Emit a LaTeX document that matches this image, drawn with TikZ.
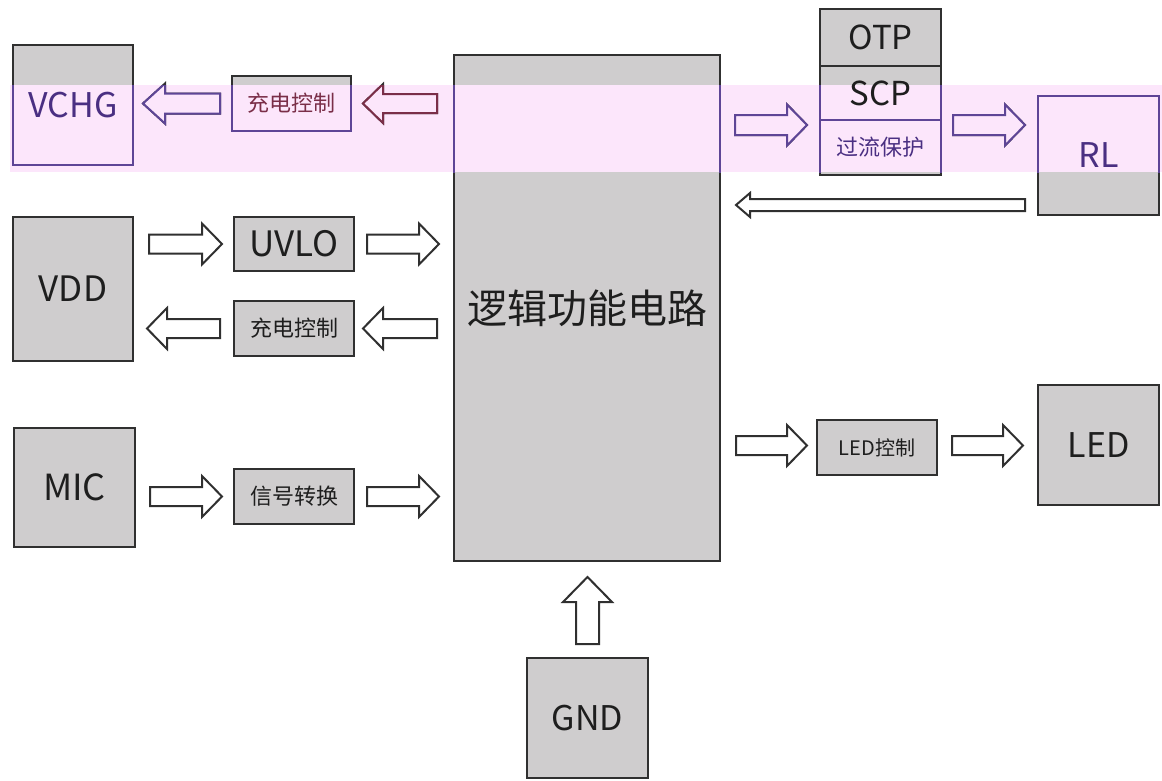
\documentclass[tikz,border=0pt]{standalone}
\usepackage{fontspec}
\setmainfont{Noto Sans CJK SC}
\usetikzlibrary{calc}
\definecolor{boxgray}{HTML}{CFCDCE}
\definecolor{edge}{HTML}{303030}
\definecolor{bandpink}{HTML}{FCE6FB}
\definecolor{bandedge}{HTML}{5E4596}
\definecolor{bandtext}{HTML}{4A2F82}
\definecolor{darkred}{HTML}{7A2E48}
\definecolor{ink}{HTML}{1E1E1E}
\newcommand\blockarrow[6][]{%
  \coordinate (ba-base) at ($(#3)!#6!(#2)$);
  \draw[barrow,#1] ($(#2)!#4!90:(#3)$) -- ($(ba-base)!#4!90:(#3)$) -- ($(ba-base)!#5!90:(#3)$) -- (#3)
    -- ($(ba-base)!#5!-90:(#3)$) -- ($(ba-base)!#4!-90:(#3)$) -- ($(#2)!#4!-90:(#3)$) -- cycle;}
\tikzset{
  box/.style={draw=edge, line width=2.2pt, fill=boxgray, inner sep=0pt, outer sep=0pt, text=ink, align=center,
    path picture={\fill[bandpink] (bandNW) rectangle (bandSE);}},
  barrow/.style={draw=edge, line width=2pt, fill=white, line join=miter},
  bandarrow/.style={draw=bandedge, fill=bandpink},
  big/.style={font=\fontsize{34}{40}\selectfont},
  small/.style={font=\fontsize{22}{26}\selectfont},
}
\begin{document}
\begin{tikzpicture}[x=1pt,y=-1pt]
\useasboundingbox (0,0) rectangle (1162,780);
\fill[white] (0,0) rectangle (1162,780);
\coordinate (bandNW) at (10,85);
\coordinate (bandSE) at (1162,172);
\fill[bandpink] (bandNW) rectangle (bandSE);
% boxes
\node[box, big, text=bandtext, minimum width=120pt, minimum height=120pt] (vchg) at (73,105) {VCHG};
\node[box, small, text=darkred, minimum width=119pt, minimum height=55pt] (cc1) at (291.5,103.5) {充电控制};
\node[box, font=\fontsize{35}{40}\selectfont, minimum width=120pt, minimum height=144pt] (vdd) at (73,289) {VDD};
\node[box, font=\fontsize{35}{40}\selectfont, minimum width=120pt, minimum height=54pt] (uvlo) at (294,244) {UVLO};
\node[box, small, minimum width=120pt, minimum height=55pt] (cc2) at (294,328.5) {充电控制};
\node[box, font=\fontsize{36}{40}\selectfont, minimum width=121pt, minimum height=119pt] (mic) at (74.5,487.5) {MIC};
\node[box, small, minimum width=120pt, minimum height=55pt] (sig) at (294,496.5) {信号转换};
\node[box, font=\fontsize{40}{46}\selectfont, minimum width=266pt, minimum height=506pt] (logic) at (587,308) {逻辑功能电路};
\node[box, font=\fontsize{33}{38}\selectfont, minimum width=121pt, minimum height=57pt] (otp) at (880.5,37.5) {OTP};
\node[box, font=\fontsize{33}{38}\selectfont, minimum width=121pt, minimum height=54pt] (scp) at (880.5,93) {SCP};
\node[box, small, text=bandtext, minimum width=121pt, minimum height=55pt] (ocp) at (880.5,147.5) {过流保护};
\node[box, big, text=bandtext, minimum width=121pt, minimum height=119pt] (rl) at (1098.5,155.5) {RL};
\node[box, font=\fontsize{20}{24}\selectfont, minimum width=120pt, minimum height=55pt] (ledc) at (877,447.5) {LED控制};
\node[box, big, minimum width=121pt, minimum height=120pt] (led) at (1098.5,445) {LED};
\node[box, big, minimum width=121pt, minimum height=120pt] (gnd) at (587.5,718) {GND};
% arrow end points
\coordinate (a1t) at ($(cc1.west)+(-12,0)$);
\coordinate (a1h) at ($(vchg.east |- cc1.west)+(10,0)$);
\coordinate (a2t) at ($(logic.west |- cc1.east)+(-17,0)$);
\coordinate (a2h) at ($(cc1.east)+(12,0)$);
\coordinate (a3t) at ($(vdd.east |- uvlo.west)+(16,0)$);
\coordinate (a3h) at ($(uvlo.west)+(-12,0)$);
\coordinate (a4t) at ($(uvlo.east)+(13,0)$);
\coordinate (a4h) at ($(logic.west |- uvlo.east)+(-15,0)$);
\coordinate (a5t) at ($(cc2.west)+(-14,0)$);
\coordinate (a5h) at ($(vdd.east |- cc2.west)+(14,0)$);
\coordinate (a6t) at ($(logic.west |- cc2.east)+(-17,0)$);
\coordinate (a6h) at ($(cc2.east)+(9,0)$);
\coordinate (a7t) at ($(mic.east |- sig.west)+(15,0)$);
\coordinate (a7h) at ($(sig.west)+(-12,0)$);
\coordinate (a8t) at ($(sig.east)+(13,0)$);
\coordinate (a8h) at ($(logic.west |- sig.east)+(-15,0)$);
\coordinate (a9t) at ($(logic.east |- ocp.north west)+(15,5)$);
\coordinate (a9h) at ($(ocp.north west)+(-13,5)$);
\coordinate (a10t) at ($(ocp.north east)+(12,5)$);
\coordinate (a10h) at ($(rl.west |- ocp.north east)+(-13,5)$);
\coordinate (a11t) at ($(rl.south west)+(-13,-10)$);
\coordinate (a11h) at ($(logic.east |- rl.south west)+(16,-10)$);
\coordinate (a12t) at ($(logic.east |- ledc.west)+(16,-2)$);
\coordinate (a12h) at ($(ledc.west)+(-10,-2)$);
\coordinate (a13t) at ($(ledc.east)+(15,-2)$);
\coordinate (a13h) at ($(led.west |- ledc.east)+(-15,-2)$);
\coordinate (a14t) at ($(gnd.north)+(0,-14)$);
\coordinate (a14h) at ($(logic.south -| gnd.north)+(0,16)$);
% arrows
\blockarrow{a1t}{a1h}{10pt}{20pt}{22pt}
\blockarrow{a2t}{a2h}{9.5pt}{19.5pt}{20pt}
\blockarrow{a3t}{a3h}{9.5pt}{20.5pt}{20pt}
\blockarrow{a4t}{a4h}{9.5pt}{20.5pt}{20pt}
\blockarrow{a5t}{a5h}{9.5pt}{20.5pt}{20pt}
\blockarrow{a6t}{a6h}{9.5pt}{20.5pt}{20pt}
\blockarrow{a7t}{a7h}{9.5pt}{20.5pt}{20pt}
\blockarrow{a8t}{a8h}{9.5pt}{20.5pt}{20pt}
\blockarrow{a9t}{a9h}{10pt}{20.5pt}{20pt}
\blockarrow{a10t}{a10h}{10pt}{20.5pt}{20pt}
\blockarrow{a11t}{a11h}{6pt}{12pt}{14pt}
\blockarrow{a12t}{a12h}{9.5pt}{20.5pt}{20pt}
\blockarrow{a13t}{a13h}{9.5pt}{20.5pt}{20pt}
\blockarrow{a14t}{a14h}{11.5pt}{24.5pt}{25pt}
% tinted band over the diagram
\begin{scope}
  \clip (bandNW) rectangle (bandSE);
  \foreach \n in {vchg,cc1,logic,scp,ocp,rl}
    \draw[bandedge, line width=2.2pt] (\n.south west) rectangle (\n.north east);
  \blockarrow[bandarrow]{a1t}{a1h}{10pt}{20pt}{22pt}
  \blockarrow[bandarrow, draw=darkred]{a2t}{a2h}{9.5pt}{19.5pt}{20pt}
  \blockarrow[bandarrow]{a9t}{a9h}{10pt}{20.5pt}{20pt}
  \blockarrow[bandarrow]{a10t}{a10h}{10pt}{20.5pt}{20pt}
\end{scope}
\end{tikzpicture}
\end{document}
